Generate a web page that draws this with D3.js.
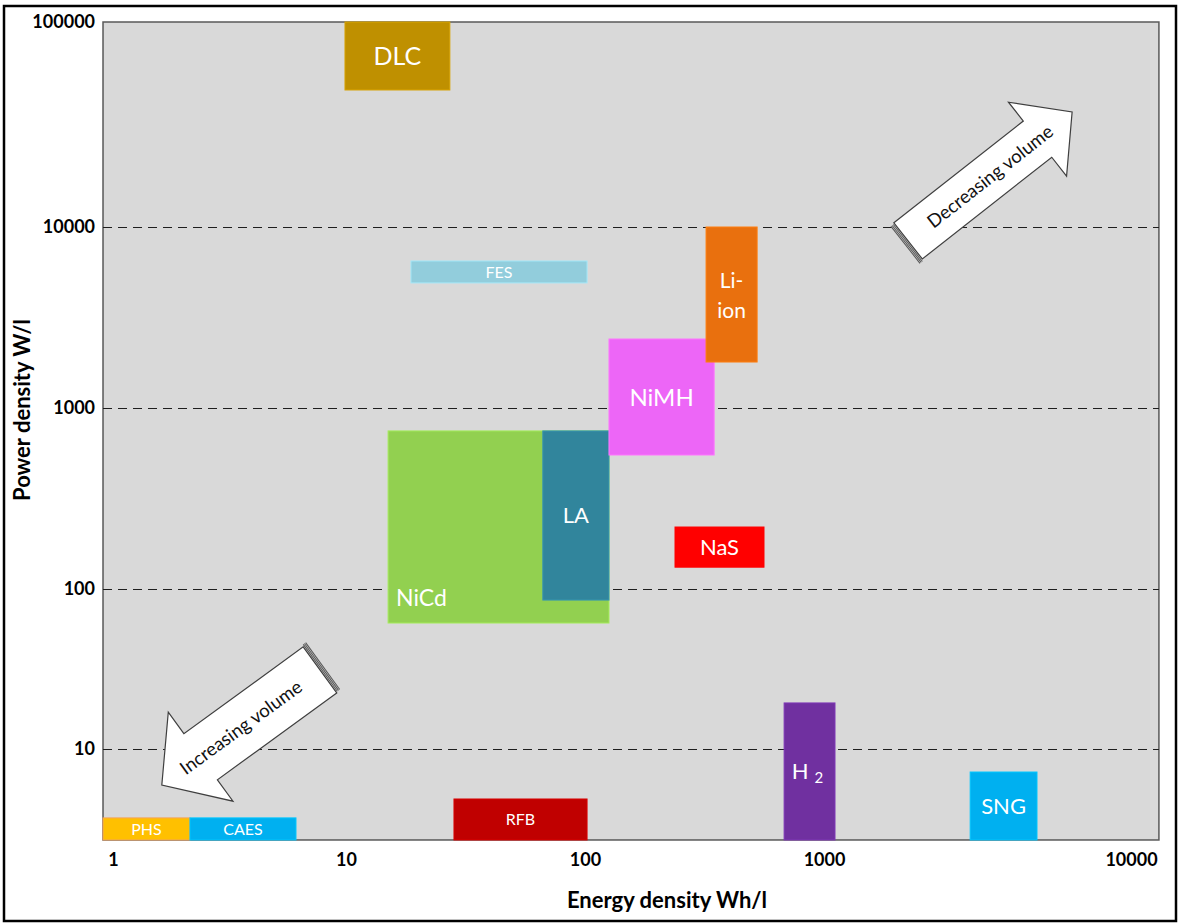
<!DOCTYPE html>
<html>
<head>
<meta charset="utf-8">
<script src="https://cdn.jsdelivr.net/npm/d3@7"></script>
<style>
  body { margin: 0; background: #fff; }
  svg text { font-family: Lato, "Open Sans", sans-serif; }
</style>
</head>
<body>
<svg id="chart"></svg>
<script>
/* données */
const technologies = ['DLC', 'FES', 'NiCd', 'LA', 'NiMH', 'Li-ion', 'NaS', 'RFB', 'H2', 'SNG', 'PHS', 'CAES']
const energyMin = [9.9, 18.7, 15.0, 66.6, 126, 321, 238, 28.3, 681, 2993, 0.906, 2.14]   // Wh/l
const energyMax = [27.2, 102, 126, 126, 347, 525, 561, 102, 1086, 4941, 2.14, 6.1]
const powerMin = [46600, 4910, 61.3, 85.3, 550, 1795, 132, 2.7, 2.7, 2.7, 2.7, 2.7]     // W/l
const powerMax = [100000, 6490, 747, 747, 2405, 10000, 220, 4.87, 19.4, 7.18, 3.71, 3.71]
const colors = ['#bf9000', '#92cddc', '#92d050', '#31859c', '#ed66f7', '#e9700e', '#ff0000', '#c00000', '#7030a0', '#00b0f0', '#ffc000', '#00b0f0']

const xTicks = [1, 10, 100, 1000, 10000]
const yTicks = [100000, 10000, 1000, 100, 10]
const gridLines = [10000, 1000, 100, 10]
const xLimits = [0.906, 12330]
const yLimits = [2.7, 100000]

// flèches : [énergie, puissance] de la queue et de la pointe
const arrowLabels = ['Increasing volume', 'Decreasing volume']
const arrowTails = [[7.73, 31.2], [1879, 8380]]
const arrowTips = [[1.62, 5.96], [6430, 36400]]

const width = 1180, height = 924

const svg = d3.select('#chart').attr('width', width).attr('height', height)

/* échelles log (la figure d'origine n'a pas des décades tout à fait régulières) */
const xScale = d3.scaleLog().domain(xTicks).range([113, 346, 585, 824, 1131])
const yScale = d3.scaleLog().domain(yTicks).range([22, 227, 408, 589, 749])

const plotLeft = xScale(xLimits[0]), plotRight = xScale(xLimits[1])
const plotTop = yScale(yLimits[1]), plotBottom = yScale(yLimits[0])

/* cadre extérieur */
svg.append('rect')
   .attr('x', 4).attr('y', 6).attr('width', 1172).attr('height', 915)
   .attr('fill', 'none').attr('stroke', '#000').attr('stroke-width', 2.5)

/* zone du graphique */
svg.append('rect')
   .attr('x', plotLeft).attr('y', plotTop).attr('width', plotRight - plotLeft).attr('height', plotBottom - plotTop)
   .attr('fill', '#d9d9d9').attr('stroke', '#595959').attr('stroke-width', 1.5)

/* lignes pointillées */
svg.selectAll('line.grid')
   .data(gridLines)
   .enter()
   .append('line')
   .attr('class', 'grid')
   .attr('x1', plotLeft).attr('x2', plotRight)
   .attr('y1', d => Math.round(yScale(d)) + 0.5).attr('y2', d => Math.round(yScale(d)) + 0.5)
   .attr('stroke', '#1e1e1e').attr('stroke-width', 1.1)
   .attr('stroke-dasharray', '9,6')

/* rectangles des technologies */
const boxes = svg.selectAll('g.tech')
   .data(technologies)
   .enter()
   .append('g')
   .attr('class', 'tech')

boxes.append('rect')
   .attr('x', (d, i) => xScale(energyMin[i]))
   .attr('y', (d, i) => yScale(powerMax[i]))
   .attr('width', (d, i) => xScale(energyMax[i]) - xScale(energyMin[i]))
   .attr('height', (d, i) => yScale(powerMin[i]) - yScale(powerMax[i]))
   .attr('fill', (d, i) => colors[i])
   .attr('stroke', (d, i) => d === 'PHS' ? '#f4a25a' : d3.color(colors[i]).brighter(0.35))
   .attr('stroke-width', 1)

const bigLabel = { DLC: 25, NiMH: 24, NiCd: 23, LA: 22, NaS: 22, SNG: 22, 'Li-ion': 21, H2: 22 }

boxes.each(function (d, i) {
    const g = d3.select(this)
    const x0 = xScale(energyMin[i]), x1 = xScale(energyMax[i])
    const y0 = yScale(powerMax[i]), y1 = yScale(powerMin[i])
    const cx = (x0 + x1) / 2, cy = (y0 + y1) / 2
    const size = bigLabel[d] || 16
    const t = g.append('text')
               .attr('fill', '#fff')
               .style('font-size', size + 'px')
               .attr('text-anchor', 'middle')
    if (d === 'NiCd') {
        t.attr('text-anchor', 'start').attr('x', x0 + 8).attr('y', y1 - 17).text(d)
    } else if (d === 'Li-ion') {
        t.attr('x', cx).attr('y', cy - 7).text('Li-')
        g.append('text').attr('fill', '#fff').style('font-size', size + 'px')
         .attr('text-anchor', 'middle').attr('x', cx).attr('y', cy + 23).text('ion')
    } else if (d === 'H2') {
        t.attr('x', cx - 2).attr('y', cy + 8).text('H')
        t.append('tspan').attr('dx', 6).attr('dy', 4).style('font-size', '15px').text('2')
    } else {
        t.attr('x', cx).attr('y', cy).attr('dy', '0.36em').text(d)
    }
})

/* flèches */
const drawArrow = (label, tail, tip, bodyW, headW, headL) => {
    const p0 = [xScale(tail[0]), yScale(tail[1])]
    const p1 = [xScale(tip[0]), yScale(tip[1])]
    const len = Math.hypot(p1[0] - p0[0], p1[1] - p0[1])
    const ang = Math.atan2(p1[1] - p0[1], p1[0] - p0[0]) * 180 / Math.PI
    const g = svg.append('g')
                 .attr('transform', 'translate(' + p0[0] + ',' + p0[1] + ') rotate(' + ang + ')')
    // effet de relief sur la queue
    ;[-4.5, -3, -1.5].forEach(o => {
        g.append('line')
         .attr('x1', o).attr('x2', o)
         .attr('y1', -bodyW / 2 + 1).attr('y2', bodyW / 2 + 2)
         .attr('stroke', '#555').attr('stroke-width', 1)
    })
    const pts = [[0, -bodyW / 2], [len - headL, -bodyW / 2], [len - headL, -headW / 2], [len, 0],
                 [len - headL, headW / 2], [len - headL, bodyW / 2], [0, bodyW / 2]]
    g.append('polygon')
     .attr('points', pts.map(p => p.join(',')).join(' '))
     .attr('fill', '#fff').attr('stroke', '#3f3f3f').attr('stroke-width', 1.2)
    const flip = Math.abs(ang) > 90
    g.append('text')
     .attr('transform', 'translate(' + (len / 2) + ',0)' + (flip ? ' rotate(180)' : ''))
     .attr('text-anchor', 'middle').attr('dy', '0.35em')
     .style('font-size', '18.5px').attr('fill', '#111')
     .text(label)
}
drawArrow(arrowLabels[0], arrowTails[0], arrowTips[0], 57, 110, 48)
drawArrow(arrowLabels[1], arrowTails[1], arrowTips[1], 46, 94, 44)

/* axes */
const xAxis = d3.axisBottom(xScale).tickValues(xTicks).tickFormat(d3.format('d')).tickSize(0).tickPadding(13)
svg.append('g')
   .attr('transform', 'translate(0,' + plotBottom + ')')
   .call(xAxis)
   .call(g => g.select('.domain').remove())
   .selectAll('text').style('font-size', '18px').style('font-weight', 'bold').attr('fill', '#000')
   .style('font-family', 'Lato, sans-serif')

const yAxis = d3.axisLeft(yScale).tickValues(yTicks).tickFormat(d3.format('d')).tickSize(0).tickPadding(8)
svg.append('g')
   .attr('transform', 'translate(' + plotLeft + ',0)')
   .call(yAxis)
   .call(g => g.select('.domain').remove())
   .selectAll('text').style('font-size', '18px').style('font-weight', 'bold').attr('fill', '#000')
   .style('font-family', 'Lato, sans-serif')

/* titres des axes */
svg.append('text')
   .attr('x', 667).attr('y', 908)
   .attr('text-anchor', 'middle')
   .style('font-size', '22px').style('font-weight', 'bold')
   .text('Energy density Wh/l')

svg.append('text')
   .attr('transform', 'translate(30,410) rotate(-90)')
   .attr('text-anchor', 'middle')
   .style('font-size', '22px').style('font-weight', 'bold')
   .text('Power density W/l')
</script>
</body>
</html>
